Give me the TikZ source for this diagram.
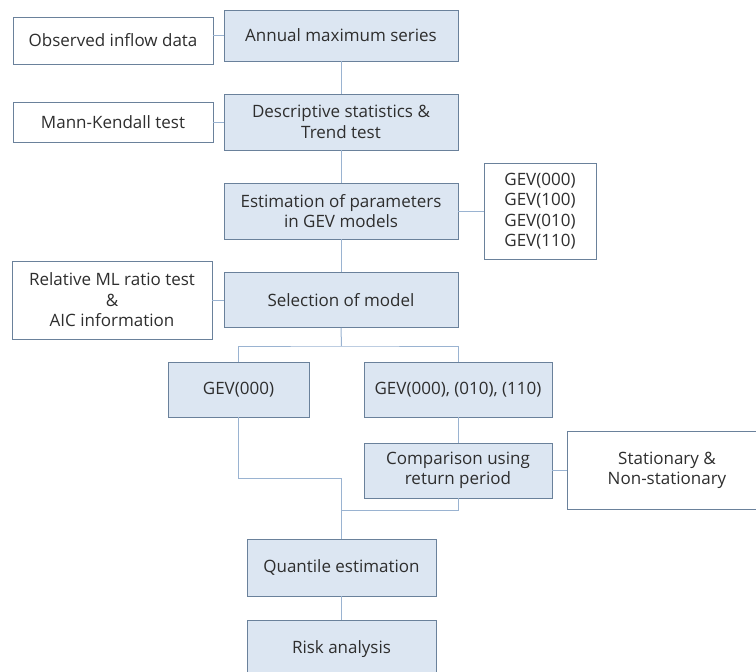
\documentclass[tikz,border=0pt]{standalone}
\usepackage{fontspec}
\setmainfont{Open Sans}
\usetikzlibrary{positioning}
\definecolor{boxfill}{HTML}{DCE6F2}
\definecolor{boxline}{HTML}{6A819B}
\definecolor{linkline}{HTML}{9AB3D1}

\begin{document}
\begin{tikzpicture}[x=1pt, y=-1pt, font=\fontsize{17}{20.5}\selectfont, text=black!82,
  blue box/.style={rectangle, draw=boxline, fill=boxfill, line width=0.9pt, inner sep=0pt, align=center},
  white box/.style={rectangle, draw=boxline, fill=white, line width=0.9pt, inner sep=0pt, align=center},
  link/.style={draw=linkline, line width=1pt}]

\useasboundingbox[fill=white] (0,0) rectangle (756,672);
\clip (0,0) rectangle (756,672);

\node[white box, minimum width=200pt, minimum height=47pt] (obs) at (113,40.5) {Observed inflow data};
\node[blue box, minimum width=234pt, minimum height=51pt] (ann) at (341,35.5) {Annual maximum series};
\node[white box, minimum width=200pt, minimum height=40pt] (mk) at (113,122) {Mann-Kendall test};
\node[blue box, minimum width=234pt, minimum height=56pt] (desc) at (341,122) {Descriptive statistics \&\\Trend test};
\node[blue box, minimum width=234pt, minimum height=56pt] (est) at (341,211) {Estimation of parameters\\in GEV models};
\node[white box, minimum width=112pt, minimum height=96pt] (gevs) at (540,211) {GEV(000)\\GEV(100)\\GEV(010)\\GEV(110)};
\node[white box, minimum width=200pt, minimum height=78pt] (rel) at (112,300) {Relative ML ratio test\\\&\\AIC information};
\node[blue box, minimum width=234pt, minimum height=55pt] (sel) at (341,300) {Selection of model};
\node[blue box, minimum width=141pt, minimum height=55pt] (gev0) at (238.5,389.5) {GEV(000)};
\node[blue box, minimum width=188pt, minimum height=55pt] (gevall) at (458,389.5) {GEV(000), (010), (110)};
\node[blue box, minimum width=188pt, minimum height=55pt] (cmp) at (458,470.5) {Comparison using\\return period};
\node[white box, minimum width=200pt, minimum height=78pt] (stat) at (667,470.5) {Stationary \&\\Non-stationary};
\node[blue box, minimum width=189pt, minimum height=57pt] (quant) at (341.5,567.5) {Quantile estimation};
\node[blue box, minimum width=189pt, minimum height=58pt] (risk) at (341.5,649) {Risk analysis};

\coordinate (split) at (341.5,346);
\coordinate (join1) at (341.5,478);
\coordinate (join2) at (341.5,510);

\path[link]
(ann.west) edge (ann.west -| obs.east)
(ann) edge (desc)
(mk) edge (desc)
(desc) edge (est)
(est) edge (gevs)
(est) edge (sel)
(rel) edge (sel)
(sel.south) edge (split)
(gevall) edge (cmp)
(cmp) edge (stat)
(quant) edge (risk)
;
\draw[link] (gev0.north) |- (split) -| (gevall.north);
\draw[link] (gev0.south) |- (join1) -- (quant.north);
\draw[link] (cmp.south) |- (join2);

\end{tikzpicture}
\end{document}
